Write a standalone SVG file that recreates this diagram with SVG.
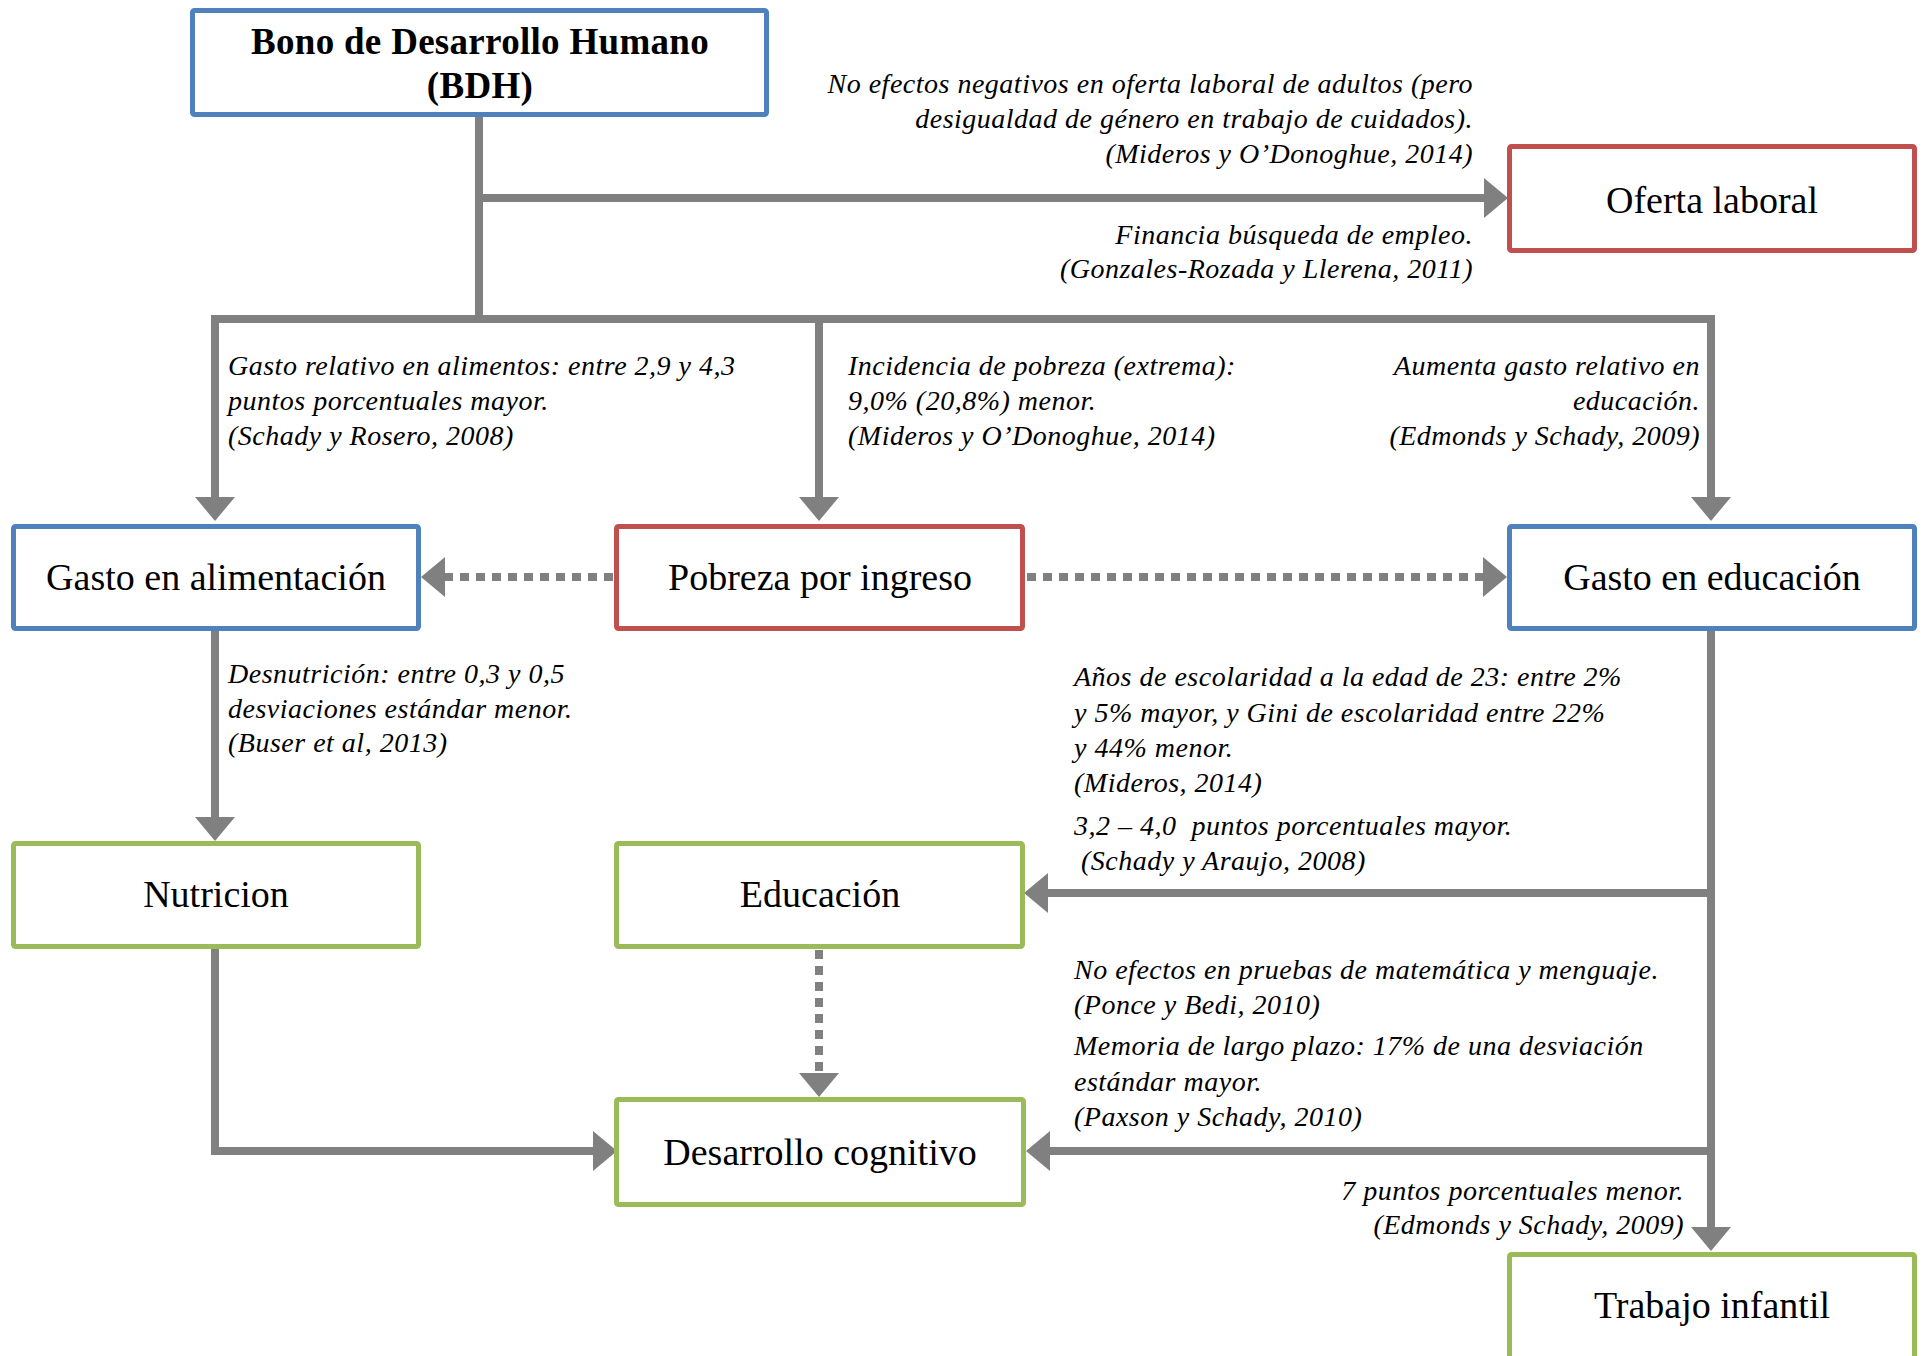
<svg xmlns="http://www.w3.org/2000/svg" width="1927" height="1356" viewBox="0 0 1927 1356">
<style>
.box{fill:#fff;stroke-width:5}
.blue{stroke:#4F81BD}
.red{stroke:#C0504D}
.green{stroke:#9BBB59}
.t{font-family:"Liberation Serif","Times New Roman",serif;font-size:38px;fill:#000;text-anchor:middle}
.b{font-weight:bold;font-size:37px;letter-spacing:0.3px}
.n{font-family:"Liberation Serif","Times New Roman",serif;font-size:28px;font-style:italic;fill:#000;letter-spacing:0.5px}
.e{text-anchor:end}
.c{fill:none;stroke:#808080;stroke-width:8;stroke-linejoin:miter}
.d{stroke-dasharray:9 7}
</style>
<defs>
<marker id="ah" viewBox="0 0 24 40" markerWidth="24" markerHeight="40" refX="0" refY="20" orient="auto" markerUnits="userSpaceOnUse">
<path d="M0,0 L24,20 L0,40 Z" fill="#808080"/>
</marker>
</defs>
<rect width="1927" height="1356" fill="#fff"/>
<g id="connectors">
<path class="c" d="M479,117 V323"/>
<path class="c" d="M479,198 H1484" marker-end="url(#ah)"/>
<path class="c" d="M215,497 V319 H1711 V497" />
<path class="c" d="M215,319 V497" marker-end="url(#ah)"/>
<path class="c" d="M819,319 V497" marker-end="url(#ah)"/>
<path class="c" d="M1711,319 V497" marker-end="url(#ah)"/>
<path class="c d" d="M613,577 H445" marker-end="url(#ah)"/>
<path class="c d" d="M1027,577 H1483" marker-end="url(#ah)"/>
<path class="c" d="M215,631 V817" marker-end="url(#ah)"/>
<path class="c" d="M215,949 V1151 H593" marker-end="url(#ah)"/>
<path class="c d" d="M819,950 V1073" marker-end="url(#ah)"/>
<path class="c" d="M1711,631 V1227" marker-end="url(#ah)"/>
<path class="c" d="M1711,893 H1048" marker-end="url(#ah)"/>
<path class="c" d="M1711,1151 H1050" marker-end="url(#ah)"/>
</g>
<g id="bdh">
<rect class="box blue" x="192.5" y="10.5" width="574" height="104" rx="2"/>
<text class="t b" x="480" y="54">Bono de Desarrollo Humano</text>
<text class="t b" x="480" y="98">(BDH)</text>
</g>
<g id="oferta">
<rect class="box red" x="1509.5" y="146.5" width="405" height="104" rx="2"/>
<text class="t" x="1712" y="213">Oferta laboral</text>
</g>
<g id="gasto-alim">
<rect class="box blue" x="13.5" y="526.5" width="405" height="102" rx="2"/>
<text class="t" x="216" y="590">Gasto en alimentación</text>
</g>
<g id="pobreza">
<rect class="box red" x="616.5" y="526.5" width="406" height="102" rx="2"/>
<text class="t" x="820" y="590">Pobreza por ingreso</text>
</g>
<g id="gasto-educ">
<rect class="box blue" x="1509.5" y="526.5" width="405" height="102" rx="2"/>
<text class="t" x="1712" y="590">Gasto en educación</text>
</g>
<g id="nutricion">
<rect class="box green" x="13.5" y="843.5" width="405" height="103" rx="2"/>
<text class="t" x="216" y="907">Nutricion</text>
</g>
<g id="educacion">
<rect class="box green" x="616.5" y="843.5" width="406" height="103" rx="2"/>
<text class="t" x="820" y="907">Educación</text>
</g>
<g id="desarrollo">
<rect class="box green" x="616.5" y="1099.5" width="407" height="105" rx="2"/>
<text class="t" x="820" y="1165">Desarrollo cognitivo</text>
</g>
<g id="trabajo">
<rect class="box green" x="1509.5" y="1254.5" width="405" height="110" rx="2"/>
<text class="t" x="1712" y="1318">Trabajo infantil</text>
</g>
<g id="labels">
<text class="n e" x="1473" y="93">No efectos negativos en oferta laboral de adultos (pero</text>
<text class="n e" x="1473" y="128">desigualdad de género en trabajo de cuidados).</text>
<text class="n e" x="1473" y="163">(Mideros y O’Donoghue, 2014)</text>
<text class="n e" x="1473" y="244">Financia búsqueda de empleo.</text>
<text class="n e" x="1473" y="278">(Gonzales-Rozada y Llerena, 2011)</text>
<text class="n" x="228" y="375">Gasto relativo en alimentos: entre 2,9 y 4,3</text>
<text class="n" x="228" y="410">puntos porcentuales mayor.</text>
<text class="n" x="228" y="445">(Schady y Rosero, 2008)</text>
<text class="n" x="848" y="375">Incidencia de pobreza (extrema):</text>
<text class="n" x="848" y="410">9,0% (20,8%) menor.</text>
<text class="n" x="848" y="445">(Mideros y O’Donoghue, 2014)</text>
<text class="n e" x="1700" y="375">Aumenta gasto relativo en</text>
<text class="n e" x="1700" y="410">educación.</text>
<text class="n e" x="1700" y="445">(Edmonds y Schady, 2009)</text>
<text class="n" x="228" y="683">Desnutrición: entre 0,3 y 0,5</text>
<text class="n" x="228" y="718">desviaciones estándar menor.</text>
<text class="n" x="228" y="752">(Buser et al, 2013)</text>
<text class="n" x="1074" y="686">Años de escolaridad a la edad de 23: entre 2%</text>
<text class="n" x="1074" y="722">y 5% mayor, y Gini de escolaridad entre 22%</text>
<text class="n" x="1074" y="757">y 44% menor.</text>
<text class="n" x="1074" y="792">(Mideros, 2014)</text>
<text class="n" x="1074" y="835" xml:space="preserve">3,2 – 4,0  puntos porcentuales mayor.</text>
<text class="n" x="1081" y="870">(Schady y Araujo, 2008)</text>
<text class="n" x="1074" y="979">No efectos en pruebas de matemática y menguaje.</text>
<text class="n" x="1074" y="1014">(Ponce y Bedi, 2010)</text>
<text class="n" x="1074" y="1055">Memoria de largo plazo: 17% de una desviación</text>
<text class="n" x="1074" y="1091">estándar mayor.</text>
<text class="n" x="1074" y="1126">(Paxson y Schady, 2010)</text>
<text class="n e" x="1684" y="1200">7 puntos porcentuales menor.</text>
<text class="n e" x="1684" y="1234">(Edmonds y Schady, 2009)</text>
</g>
</svg>
